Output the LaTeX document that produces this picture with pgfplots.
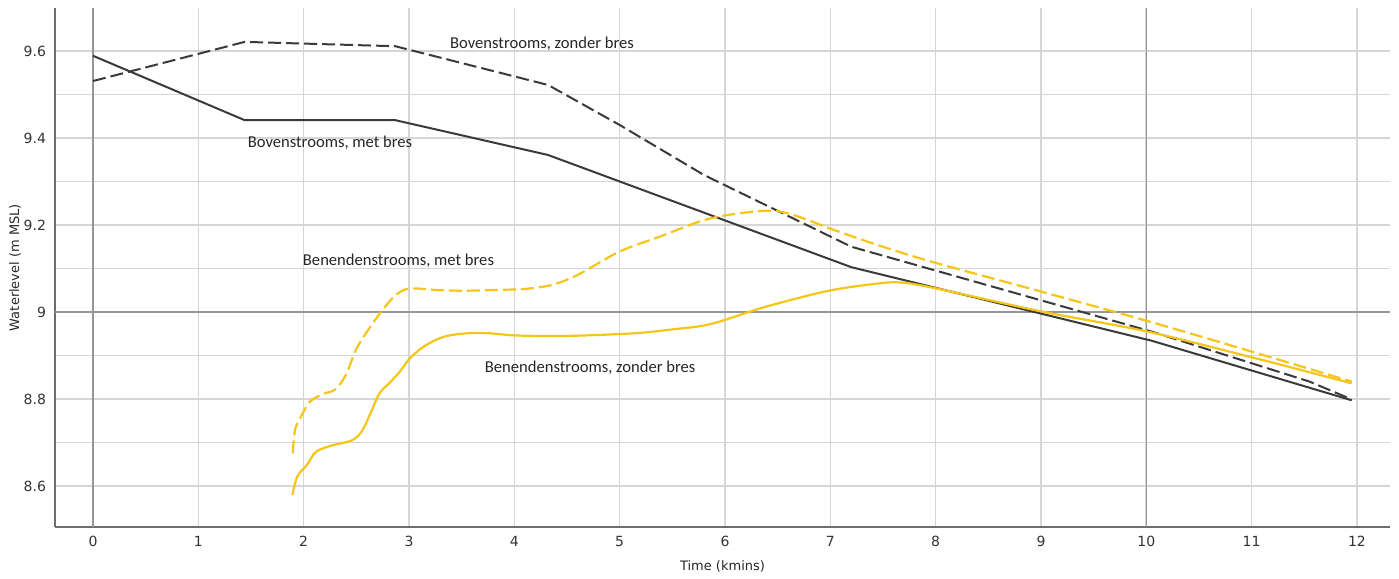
\documentclass[border=0pt]{standalone}
\usepackage{fontspec}
\setmainfont{DejaVu Sans}
\newfontfamily\annfont{Carlito}
\usepackage{pgfplots}
\pgfplotsset{compat=1.18}
\definecolor{darkline}{RGB}{58,58,58}
\definecolor{gold}{RGB}{245,197,24}
\definecolor{gridc}{RGB}{214,214,214}
\definecolor{axisc}{RGB}{110,110,110}
\definecolor{darkgrid}{RGB}{150,150,150}

\begin{document}
\begin{tikzpicture}
\begin{axis}[
  scale only axis,
  width=667.5pt, height=259.5pt,
  xmin=-0.361, xmax=12.314,
  ymin=8.5057, ymax=9.6989,
  axis x line*=bottom, axis y line*=left,
  axis line style={axisc, line width=1pt},
  xtick={0,1,...,12},
  ytick={8.6,8.8,9,9.2,9.4,9.6},
  minor ytick={8.7,8.9,9.1,9.3,9.5},
  grid=both,
  major grid style={gridc, line width=0.8pt},
  minor grid style={gridc, line width=0.8pt},
  major tick length=0pt, minor tick length=0pt,
  /pgf/number format/assume math mode=true,
  ticklabel style={font=\fontsize{7}{8}\selectfont, text=black!80},
  yticklabel style={xshift=-1pt},
  xticklabel style={yshift=-1pt},
  xlabel={Time (kmins)},
  ylabel={Waterlevel (m MSL)},
  label style={font=\fontsize{6.5}{8}\selectfont, text=black!85},
  xlabel style={yshift=0pt},
  ylabel style={yshift=-5.5pt},
  clip=false,
]
% darker reference grid lines
\draw[darkgrid, line width=0.7pt] (axis cs:0,8.5057) -- (axis cs:0,9.6989);
\draw[darkgrid, line width=0.7pt] (axis cs:10,8.5057) -- (axis cs:10,9.6989);
\draw[darkgrid, line width=0.7pt] (axis cs:-0.361,9) -- (axis cs:12.314,9);
% Bovenstrooms, met bres
\addplot[darkline, line width=1pt] coordinates {
  (0,9.589) (1.44,9.441) (2.87,9.441) (4.32,9.361) (7.2,9.103) (10.05,8.934) (11.95,8.797)
};
% Bovenstrooms, zonder bres
\addplot[darkline, line width=1pt, dash pattern=on 6.5pt off 2.5pt] coordinates {
  (0,9.531) (1.44,9.621) (2.87,9.611) (4.32,9.522) (5.0,9.43) (5.8,9.315) (7.2,9.150)
  (10.05,8.955) (11.55,8.84) (11.95,8.799)
};
% Benendenstrooms, met bres
\addplot[gold, line width=1.1pt, dash pattern=on 6.5pt off 2.5pt, smooth, tension=0.55] coordinates {
  (1.896,8.675) (1.918,8.729) (1.965,8.755) (2.06,8.794) (2.19,8.812) (2.30,8.822)
  (2.40,8.855) (2.50,8.915) (2.63,8.965) (2.76,9.008) (2.88,9.040) (3.01,9.054)
  (3.3,9.050) (3.55,9.049) (3.86,9.051) (4.1,9.053) (4.35,9.062) (4.6,9.085)
  (5.0,9.139) (5.4,9.175) (5.76,9.208) (6.0,9.222) (6.33,9.232) (6.52,9.231)
  (6.75,9.215) (7.03,9.189) (7.5,9.150) (8.0,9.113) (9,9.047) (10,8.980)
  (11,8.909) (11.95,8.840)
};
% Benendenstrooms, zonder bres
\addplot[gold, line width=1.1pt, smooth, tension=0.55] coordinates {
  (1.893,8.579) (1.94,8.622) (2.03,8.648) (2.12,8.679) (2.28,8.694) (2.45,8.704)
  (2.55,8.725) (2.64,8.770) (2.72,8.813) (2.82,8.838) (2.92,8.865) (3.01,8.894)
  (3.15,8.922) (3.33,8.943) (3.55,8.951) (3.77,8.951) (4.02,8.946) (4.5,8.945)
  (5.13,8.951) (5.5,8.960) (5.86,8.972) (6.33,9.008) (6.71,9.033) (7.03,9.051)
  (7.4,9.064) (7.66,9.068) (8.01,9.054) (9.01,9.001) (10.01,8.955) (11,8.896)
  (11.95,8.836)
};
\node[font=\annfont\fontsize{8.3}{10}\selectfont, text=black!85] at (axis cs:4.263,9.616) {Bovenstrooms, zonder bres};
\node[font=\annfont\fontsize{8.3}{10}\selectfont, text=black!85] at (axis cs:2.25,9.388) {Bovenstrooms, met bres};
\node[font=\annfont\fontsize{8.3}{10}\selectfont, text=black!85] at (axis cs:2.90,9.117) {Benendenstrooms, met bres};
\node[font=\annfont\fontsize{8.3}{10}\selectfont, text=black!85] at (axis cs:4.72,8.871) {Benendenstrooms, zonder bres};
\end{axis}
\path ([xshift=4.5pt]current axis.east);
\path ([yshift=4pt]current axis.north);
\path ([yshift=-25pt]current axis.south);
\path ([xshift=-27.5pt]current axis.west);
\end{tikzpicture}
\end{document}
